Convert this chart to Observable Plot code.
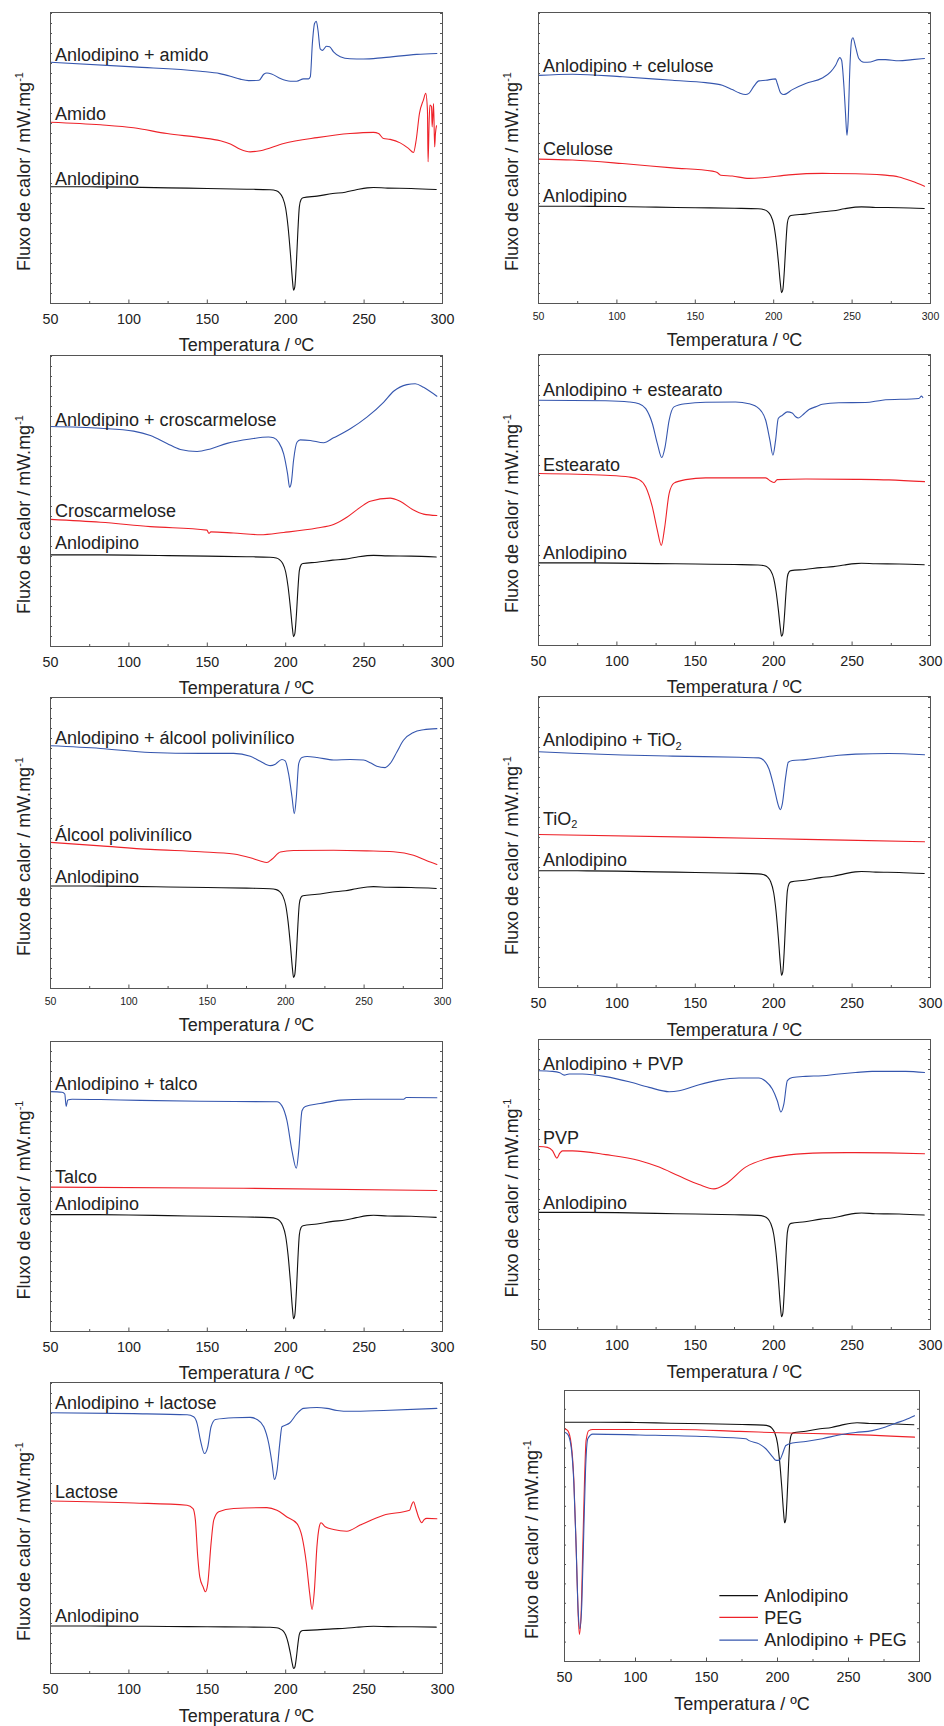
<!DOCTYPE html>
<html><head><meta charset="utf-8">
<script src="https://cdn.jsdelivr.net/npm/d3@7"></script>
<script src="https://cdn.jsdelivr.net/npm/@observablehq/plot@0.6"></script>
<style>
body{margin:0;background:#fff;}
#root{position:relative;width:944px;height:1726px;overflow:hidden;font-family:"Liberation Sans",Arial,sans-serif;}
#root svg{position:absolute;}
</style></head><body><div id="root"></div>
<script>
// ---------- DATA ----------
const xTitle = "Temperatura / ºC";
const yTitle = "Fluxo de calor / mW.mg";
const majorX = [50, 100, 150, 200, 250, 300];
const minorX = [75, 125, 175, 225, 275];

// Anlodipino curve (normalised: 0 = baseline at 50 °C, -1 = melting peak)
const anlodipinoShape = [[50,0],[75,0],[100,-0.003],[125,-0.01],[150,-0.016],[175,-0.023],[190,-0.029],[194,-0.039],[196,-0.058],[198,-0.103],[200,-0.21],[201.5,-0.387],[203,-0.645],[204.3,-0.903],[205,-1],[205.8,-0.968],[206.8,-0.742],[207.8,-0.419],[208.7,-0.194],[209.8,-0.123],[211,-0.106],[220,-0.09],[230,-0.065],[238,-0.052],[245,-0.029],[252,-0.01],[256,-0.006],[265,-0.013],[280,-0.016],[296,-0.026]];
// per-panel level and depth of the Anlodipino trace
const anlodipinoBase  = [40.1, 33.4, 31.5, 28.4, 35.2, 40.1, 40.3, 40.4, 16.3, 88.3];
const anlodipinoDepth = [35.5, 29.7, 28.1, 25.2, 31.4, 35.9, 35.9, 36.0, 14.6, 37.1];

const amidoMix = [[50,82.9],[103,81.3],[145.6,79.8],[158,79.0],[164.7,78.1],[171,77.1],[176.4,76.6],[183,76.7],[186,78.8],[188,79.2],[191,78.9],[196.6,77.3],[203,76.4],[207,76.4],[211.4,77.2],[214.6,77.2],[215.7,77.9],[217,89.3],[218.4,96.2],[219.5,97.0],[220.6,93.9],[222,87.5],[223.5,87.0],[226,88.4],[228,88.2],[230.5,86.5],[234.8,84.8],[241,84.1],[249.6,84.0],[262.4,84.5],[283.6,85.6],[296.4,85.9]];
const amido = [[50,62.3],[81.9,61.4],[103,60.4],[124.3,58.4],[145.6,57.0],[158.3,55.9],[164.7,54.8],[171,53.0],[177.4,52.1],[183.8,52.5],[198.7,55.0],[220,57.0],[241,58.4],[256,58.8],[259.2,58.4],[262.4,56.7],[266.6,56.4],[273,55.2],[278.3,53.3],[281.5,51.9],[283.2,56.1],[285.3,65.3],[287.8,69.9],[289.3,72.2],[290.4,66.4],[290.8,48.7],[291.5,63.0],[292,68.2],[293,67.6],[293.4,60.7],[294.3,68.7],[295,53.8],[295.5,58.4],[296.2,61.1]];

const celuloseMix = [[50,78.4],[71.7,78.8],[103.5,77.9],[135.4,76.7],[156.6,75.9],[167.2,75.0],[173.6,73.5],[177.9,72.4],[182,71.8],[184.2,72.2],[187.4,74.7],[190.6,76.5],[194.9,76.7],[201.2,77.2],[202.3,75.6],[204.4,72.4],[206.5,71.8],[211.9,73.5],[220.4,75.6],[231,77.5],[236.3,79.6],[239.5,81.9],[242.2,84.5],[243.3,83.6],[244.8,74.5],[245.8,65.3],[246.7,57.8],[247.5,63.0],[248.6,81.3],[249.7,90.5],[250.5,91.3],[252.2,88.2],[254.3,84.2],[257.5,82.9],[261.8,83.0],[267,83.8],[271.3,83.8],[279.8,83.4],[288.3,83.8],[296.2,84.2]];
const celulose = [[50,49.6],[71.7,49.3],[103.5,48.1],[135.4,46.6],[160.9,45.5],[164,45.0],[166.2,44.1],[173.6,43.8],[184.2,43.0],[192.7,43.2],[209.7,44.2],[231,44.7],[252.2,44.6],[269.2,44.2],[279.8,43.5],[288.3,42.0],[296.2,40.3]];

const croscarmeloseMix = [[50,75.6],[81.9,75.0],[103,74.0],[113.7,72.5],[124.3,69.8],[132.8,67.7],[143.5,67.0],[152,67.9],[162.6,69.8],[177.4,71.3],[189,72.0],[192.3,71.7],[195.5,70.2],[198.7,66.2],[201.2,59.3],[202.5,54.7],[203.6,56.4],[205,63.9],[207.2,70.2],[209.3,71.0],[215.7,70.8],[224.2,70.0],[230.5,71.7],[241.2,74.8],[251.8,78.8],[262.4,83.9],[268.8,87.7],[277.3,90.0],[282.6,90.3],[287.9,89.1],[296.4,86.0]];
const croscarmelose = [[50,43.7],[81.9,42.7],[113.7,41.2],[149.8,40.0],[151,38.9],[152.3,39.4],[166.7,39.0],[183.7,38.4],[198.7,39.2],[220,40.7],[230.5,41.9],[239,44.4],[247.5,47.8],[253.9,49.9],[266.6,51.0],[273,49.9],[281.5,46.9],[287.9,45.5],[296.4,45.0]];

const estearatoMix = [[50,84.3],[92.9,84.1],[107.8,83.7],[114.1,83.1],[118.4,81.4],[122.6,76.3],[125.8,69.4],[128.6,64.6],[130.7,68.2],[133.3,77.4],[136.4,82.0],[143.9,83.1],[156.6,83.6],[175.7,83.7],[184.2,83.1],[190.6,81.4],[194.9,77.4],[197.6,70.5],[199.5,65.4],[201.2,70.5],[202.9,78.0],[205.5,79.1],[208.7,80.3],[211.8,79.9],[214,78.6],[215.7,78.2],[218.2,79.1],[222.5,81.1],[226.7,82.0],[231,82.9],[241.6,83.4],[258.6,83.5],[269.2,84.3],[292.6,84.9],[294.3,85.7],[295.1,85.2]];
const estearato = [[50,59.1],[92.9,58.5],[107.8,57.9],[114.1,57.0],[118.4,54.5],[122.6,47.6],[125.8,39.6],[128.3,34.4],[130.5,40.7],[133.3,52.2],[136.4,55.8],[143.9,57.0],[156.6,57.6],[194.9,57.6],[198,56.5],[200.2,56.0],[202.3,57.0],[220.4,57.2],[252.2,57.1],[273.5,56.9],[296.2,56.3]];

const pvaMix = [[50,83.4],[81.9,82.5],[113.7,81.1],[145.6,80.8],[166.8,80.8],[177.4,79.8],[183.8,78.1],[190.2,76.6],[193.4,77.1],[197.6,78.7],[199.7,78.2],[201.8,73.9],[204,65.9],[205.5,60.1],[206.8,65.9],[208.3,77.3],[210.4,79.4],[213.6,79.7],[220,79.4],[230.5,78.5],[241.2,78.7],[249.6,78.5],[253.9,77.6],[258.1,76.4],[263.4,75.9],[266.6,77.3],[270.9,81.3],[275.1,85.3],[281.5,88.0],[287.9,88.9],[296.4,89.3]];
const pva = [[50,50.2],[81.9,49.0],[113.7,47.8],[145.6,47.0],[166.8,46.2],[177.4,44.9],[183.8,43.8],[188,43.3],[191.2,44.4],[196.6,46.9],[205,47.4],[230.5,47.5],[251.8,47.3],[268.8,47.0],[281.5,45.8],[290,43.9],[296.4,42.6]];

const tio2Mix = [[50,81.0],[71.7,80.5],[103.5,79.9],[135.4,79.5],[177.9,79.1],[190.6,78.9],[193.8,78.0],[197,75.1],[200.2,68.8],[203,62.5],[204.2,61.1],[205.5,63.1],[207.6,72.2],[209.3,77.4],[211.9,78.0],[220.4,78.3],[231,79.1],[241.6,79.8],[252.2,80.2],[273.4,80.4],[296.2,80.0]];
const tio2 = [[50,52.6],[156.6,51.6],[220.4,50.9],[296.2,50.1]];

const talcoMix = [[50,82.7],[57.4,82.5],[59.1,81.9],[60,77.6],[61,79.8],[63.8,80.1],[81.9,80.0],[107.3,79.7],[145.6,79.4],[194.4,79.2],[197.6,77.8],[200.8,72.7],[204,62.3],[206.8,56.3],[208.3,62.3],[210.4,76.1],[212.5,77.6],[222,78.6],[234.8,79.8],[251.8,80.1],[275.2,80.1],[276.9,80.7],[296.4,80.6]];
const talco = [[50,49.8],[173,49.4],[296.4,48.6]];

const pvpMix = [[50,89.2],[58.9,89.0],[63.6,88.5],[66.4,87.7],[69.5,88.1],[78,88.1],[92.9,87.2],[107.8,85.4],[120.5,83.5],[133.3,82.0],[139.7,82.3],[152.4,84.4],[164.9,86.0],[177.9,86.7],[190.6,86.7],[194.9,85.6],[199.1,82.9],[202.3,78.9],[204.6,75.0],[206.5,77.8],[208.7,85.8],[211.9,86.9],[220.4,87.3],[231,87.5],[241.6,88.1],[252.2,88.6],[262.8,89.0],[284.1,89.0],[296.2,88.6]];
const pvp = [[50,63.1],[55.7,62.8],[58.9,61.7],[61.7,59.1],[63.6,60.8],[65.3,61.6],[71.7,61.6],[92.9,60.3],[114.1,58.3],[126.9,56.0],[139.7,52.9],[152.4,50.0],[161.9,48.5],[169.3,50.2],[182.1,56.0],[194.9,58.8],[209.7,60.2],[231,60.9],[252.2,61.0],[273.5,60.9],[296.2,60.6]];

const lactoseMix = [[50,89.6],[103,89.3],[137.1,88.9],[141.3,88.2],[143.5,85.9],[145.6,80.2],[148.2,75.6],[150.3,77.9],[152.4,84.8],[155.2,87.3],[166.8,87.9],[177.4,88.0],[181.7,87.3],[186,84.8],[189.2,79.0],[191.3,72.2],[192.8,66.7],[194.5,69.9],[196.2,79.0],[197.6,84.8],[199.7,85.3],[202.5,86.1],[207.2,89.3],[211.4,91.1],[219.9,91.4],[226.3,91.1],[232.7,90.4],[241.2,90.1],[262.4,90.4],[296.4,91.1]];
const lactose = [[50,59.3],[103,58.6],[137.1,57.8],[140.9,56.7],[142.4,52.7],[143.9,40.1],[145.2,33.2],[147.3,29.8],[148.8,28.1],[150.3,30.9],[152.4,44.7],[154.1,52.7],[157.3,55.6],[166.8,56.7],[188,57.0],[194.4,56.1],[200.8,53.8],[207.2,51.5],[210.4,47.0],[213.2,37.8],[215.3,27.5],[216.8,22.0],[218.3,28.6],[219.9,43.5],[221.4,50.4],[222.5,51.8],[225.2,50.4],[230.5,49.5],[239,48.9],[247.5,51.0],[262.4,54.4],[279,56.1],[280.5,58.2],[281.5,59.0],[283,56.7],[284.7,53.8],[286.8,51.8],[288.3,52.9],[290,53.3],[296.4,53.2]];

const pegMix = [[50,84.6],[52.3,83.8],[54.7,79.1],[56.6,65.6],[58.2,42.2],[59.6,18.8],[60.8,12.1],[62.2,21.3],[63.6,48.3],[64.8,70.5],[66.4,82.2],[69.9,83.9],[102.7,83.6],[149.5,83.0],[177.7,82.2],[180,81.5],[187,80.3],[191.8,78.5],[196.4,75.6],[199.2,74.2],[201.6,74.4],[203.5,76.6],[205.9,79.7],[210.5,80.6],[219.9,81.2],[231.6,82.2],[243.3,83.6],[255,84.5],[266.7,85.2],[276.1,86.5],[283.1,87.9],[290.1,89.2],[296.5,90.7]];
const peg = [[50,85.9],[52.3,85.2],[54.7,80.3],[56.6,66.8],[58.2,42.2],[59.6,17.6],[60.5,10.0],[61.7,17.6],[62.9,42.2],[64.1,66.8],[65.2,81.5],[67.1,85.2],[69.9,85.6],[102.7,85.6],[130.8,85.6],[173,84.9],[208.2,84.3],[243.3,83.9],[296.5,82.8]];

// curve labels: [text, level of the text baseline]
const labels = [
  [["Anlodipino + amido", 83.3], ["Amido", 63.0], ["Anlodipino", 40.7]],
  [["Anlodipino + celulose", 79.6], ["Celulose", 51.0], ["Anlodipino", 34.9]],
  [["Anlodipino + croscarmelose", 75.9], ["Croscarmelose", 44.4], ["Anlodipino", 33.5]],
  [["Anlodipino + estearato", 85.7], ["Estearato", 60.0], ["Anlodipino", 29.8]],
  [["Anlodipino + álcool polivinílico", 84.0], ["Álcool polivinílico", 50.7], ["Anlodipino", 36.3]],
  [["Anlodipino + TiO2", 82.9], ["TiO2", 56.0], ["Anlodipino", 41.6]],
  [["Anlodipino + talco", 83.4], ["Talco", 51.1], ["Anlodipino", 41.9]],
  [["Anlodipino + PVP", 89.4], ["PVP", 64.0], ["Anlodipino", 41.6]],
  [["Anlodipino + lactose", 90.9], ["Lactose", 60.4], ["Anlodipino", 17.8]],
  []
];
const legendNames = ["Anlodipino", "PEG", "Anlodipino + PEG"];

const mixes = [amidoMix, celuloseMix, croscarmeloseMix, estearatoMix, pvaMix, tio2Mix, talcoMix, pvpMix, lactoseMix, pegMix];
const excipients = [amido, celulose, croscarmelose, estearato, pva, tio2, talco, pvp, lactose, peg];

// ---------- LAYOUT ----------
const BLUE = "#3556ae", RED = "#ee2229", BLACK = "#111", AXIS = "#555", TEXT = "#222";
const FONT = "'Liberation Sans', Arial, sans-serif";
const layout = [
  {col:0, left:50,  right:442, top:12,   bottom:303,  tick:14.3, pad:10, titleDy:42, step:10},
  {col:1, left:538, right:930, top:12,   bottom:303,  tick:10.5, pad:9,  titleDy:37, step:10},
  {col:0, left:50,  right:442, top:355,  bottom:646,  tick:14.3, pad:10, titleDy:42, step:10},
  {col:1, left:538, right:930, top:354,  bottom:645,  tick:14.3, pad:10, titleDy:42, step:10},
  {col:0, left:50,  right:442, top:697,  bottom:988,  tick:10.5, pad:9,  titleDy:37, step:10},
  {col:1, left:538, right:930, top:696,  bottom:987,  tick:14.3, pad:10, titleDy:43, step:10},
  {col:0, left:50,  right:442, top:1041, bottom:1331, tick:14.3, pad:10, titleDy:42, step:10},
  {col:1, left:538, right:930, top:1039, bottom:1329, tick:14.3, pad:10, titleDy:43, step:10},
  {col:0, left:50,  right:442, top:1382, bottom:1673, tick:14.3, pad:10, titleDy:43, step:10},
  {col:1, left:564, right:919, top:1390, bottom:1661, tick:14.3, pad:10, titleDy:43, step:19.4, ylab:26}
];

const toRows = arr => arr.map(([T, v]) => ({T, v}));
const root = document.getElementById("root");

layout.forEach((L, i) => {
  const W = 472, ox = L.col ? 472 : 0;
  const mt = 12, mb = 53;
  const ml = L.left - ox, mr = ox + W - L.right;
  const fh = L.bottom - L.top, fw = L.right - L.left;
  const H = fh + mt + mb;
  const yTicks = d3.range(0, 100, L.step / fh * 100);
  const anlo = anlodipinoShape.map(([T, n]) => ({T, v: anlodipinoBase[i] + anlodipinoDepth[i] * n}));
  const lineOpts = {x: "T", y: "v", curve: "monotone-x", strokeWidth: 1.1};
  const plot = Plot.plot({
    width: W, height: H,
    marginLeft: ml, marginRight: mr, marginTop: mt, marginBottom: mb,
    x: {domain: [50, 300]},
    y: {domain: [0, 100], axis: null},
    style: {background: "transparent", color: TEXT, fontFamily: FONT, overflow: "visible"},
    marks: [
      Plot.tickX(minorX, {x: d => d, insetTop: fh - 2, stroke: AXIS}),
      Plot.tickX(majorX, {x: d => d, insetTop: fh - 3.5, stroke: AXIS}),
      Plot.tickY(yTicks, {y: d => d, insetRight: fw - 2, stroke: AXIS}),
      Plot.tickY(yTicks, {y: d => d, insetLeft: fw - 2, stroke: AXIS}),
      Plot.line(anlo, {...lineOpts, stroke: BLACK}),
      Plot.line(toRows(excipients[i]), {...lineOpts, stroke: RED}),
      Plot.line(toRows(mixes[i]), {...lineOpts, stroke: BLUE}),
      Plot.frame({stroke: AXIS}),
      Plot.axisX({ticks: majorX, tickSize: 0, tickPadding: L.pad, fontSize: L.tick, label: null, tickFormat: d => String(d)}),
      Plot.text([xTitle], {text: d => d, frameAnchor: "bottom", dy: L.titleDy, fontSize: 18, lineAnchor: "middle", fill: TEXT}),
      Plot.text(labels[i], {x: () => 52.8, y: d => d[1], text: d => d[0], textAnchor: "start", lineAnchor: "bottom", fontSize: 18, fill: TEXT})
    ]
  });
  plot.style.left = ox + "px";
  plot.style.top = (L.top - mt) + "px";
  const svg = d3.select(plot);

  // subscripts in TiO2 labels
  svg.selectAll("text").each(function() {
    const s = this.textContent;
    if (s.endsWith("TiO2")) {
      const t = d3.select(this);
      t.text(null);
      t.append("tspan").text(s.slice(0, -1));
      t.append("tspan").attr("dy", "0.35em").attr("font-size", 11).text("2");
    }
  });

  // y axis title with superscript
  const yl = svg.append("text")
    .attr("transform", `translate(${ml - (L.ylab || 20)},${mt + fh / 2 + 14}) rotate(-90)`)
    .attr("text-anchor", "middle").attr("font-size", 18).attr("fill", TEXT).attr("font-family", FONT);
  yl.append("tspan").text(yTitle);
  yl.append("tspan").attr("dy", "-0.6em").attr("font-size", 11).text("-1");

  // legend (PEG panel)
  if (i === 9) {
    const xs = plot.scale("x"), ys = plot.scale("y");
    const rowsV = [24.1, 16.1, 7.7];
    const cols = [BLACK, RED, BLUE];
    legendNames.forEach((name, k) => {
      const y = ys.apply(rowsV[k]);
      svg.append("line").attr("x1", xs.apply(159.4)).attr("x2", xs.apply(186.6))
        .attr("y1", y).attr("y2", y).attr("stroke", cols[k]).attr("stroke-width", 1.3);
      svg.append("text").attr("x", xs.apply(191)).attr("y", y).attr("dy", "0.35em")
        .attr("font-size", 18).attr("fill", TEXT).attr("font-family", FONT).attr("text-anchor", "start").text(name);
    });
  }
  root.appendChild(plot);
});
</script></body></html>
